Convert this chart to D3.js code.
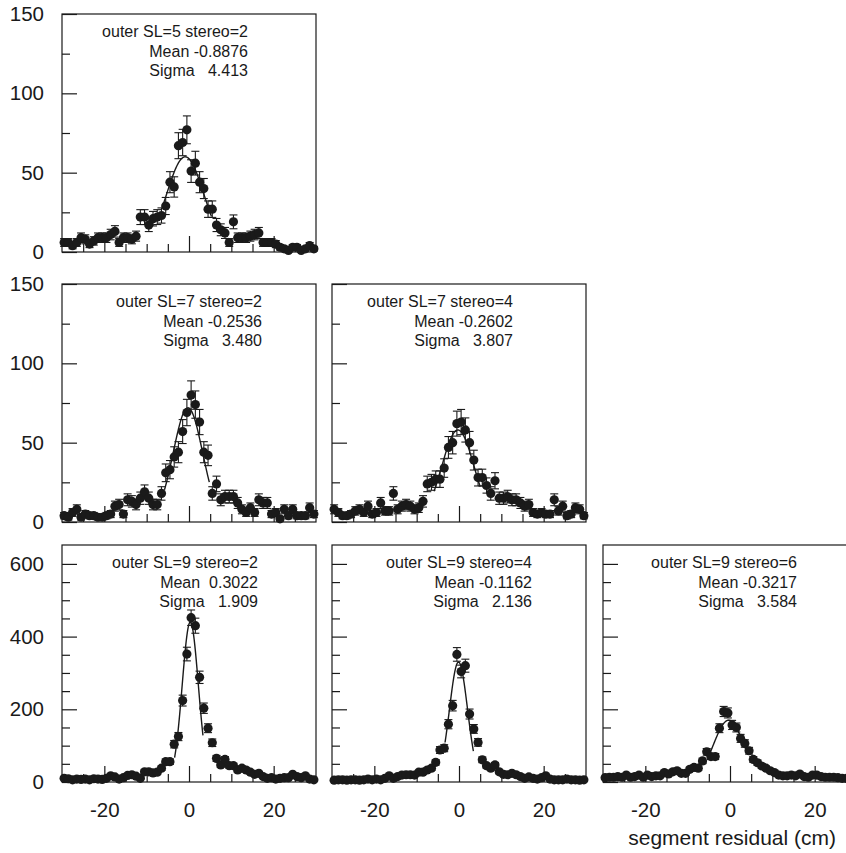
<!DOCTYPE html>
<html>
<head>
<meta charset="utf-8">
<script src="https://cdn.jsdelivr.net/npm/d3@7"></script>
<style>
body { margin: 0; background: #fff; }
svg text { font-family: "Liberation Sans", Arial, Helvetica, sans-serif; fill: #1a1a1a; }
</style>
</head>
<body>
<div id="charts"></div>
<script>
// histogram bins: 60 bins of 1 cm from -30 to 30
var binCenters = d3.range(-29.5, 30, 1);

// counts per bin
var sl5st2 = [6,6,4,6,9,8,5,7,9,9,
              9,11,13,6,9,9,8,10,22,22,
              17,21,22,23,29,44,41,67,69,77,
              51,56,44,40,27,27,17,14,12,6,
              19,9,9,9,10,11,12,6,6,6,
              5,3,2,1,3,3,1,2,4,2];
var sl7st2 = [4,3,6,8,3,5,4,4,3,3,
              4,5,10,11,5,14,13,11,15,19,
              15,11,11,18,31,33,41,44,57,69,
              80,74,63,44,42,18,24,14,16,16,
              16,12,8,6,9,6,14,12,12,5,
              6,2,8,4,8,4,4,4,9,5];
var sl7st4 = [8,6,4,4,5,7,8,6,10,5,
              6,12,7,7,18,8,10,11,10,8,
              9,13,24,25,27,27,34,47,50,62,
              63,58,50,39,28,28,23,18,26,15,
              15,16,14,14,12,10,11,6,5,6,
              5,5,14,7,10,4,5,9,8,4];
var sl9st2 = [10,9,6,8,7,8,6,9,8,7,
              10,17,14,8,12,18,20,16,10,28,
              28,25,27,38,56,56,104,125,224,352,
              452,430,288,203,148,108,65,47,62,45,
              45,33,38,33,27,21,24,15,10,12,
              8,10,12,12,21,15,12,17,8,6];
var sl9st4 = [5,6,6,5,6,6,5,6,8,6,
              8,6,10,17,10,15,19,20,20,19,
              27,27,33,38,54,88,93,159,210,351,
              304,320,187,146,109,61,45,38,47,28,
              21,20,24,20,15,10,14,10,8,12,
              17,8,6,6,6,8,6,6,5,6];
var sl9st6 = [12,13,13,15,13,19,13,15,19,13,
              19,15,17,17,26,22,28,31,24,24,
              35,40,38,58,83,70,70,148,194,190,
              157,150,120,106,86,62,53,44,38,31,
              26,19,17,17,19,17,22,15,13,19,
              19,15,13,13,13,12,10,10,10,10];

var titles = ['outer SL=5 stereo=2', 'outer SL=7 stereo=2', 'outer SL=7 stereo=4',
              'outer SL=9 stereo=2', 'outer SL=9 stereo=4', 'outer SL=9 stereo=6'];
var means  = ['-0.8876', '-0.2536', '-0.2602', ' 0.3022', '-0.1162', '-0.3217'];
var sigmas = ['4.413', '3.480', '3.807', '1.909', '2.136', '3.584'];

// gaussian fit: amplitude and drawn range
var fitAmp = [60, 72, 58, 440, 330, 170];
var fitLo  = [-6.3, -5.8, -5.9, -3.4, -3.3, -4.8];
var fitHi  = [5.3, 4.8, 5.0, 3.3, 3.4, 4.0];

var yMajorSmall = [0, 50, 100, 150];
var yMinorSmall = [25, 75, 125];
var yMajorBig = [0, 200, 400, 600];
var yMinorBig = [50, 100, 150, 250, 300, 350, 450, 500, 550];
var xMajor = [-20, 0, 20];
var xMinor = [-25, -15, -10, -5, 5, 10, 15, 25];

// layout
var colLeft = [62, 332, 603];
var rowTop = [14, 284, 545];
var rowH = [238, 238, 237];
var rowMax = [150, 150, 652];
var panelW = 254;
var titleRight = [186, 200, 181, 196, 200, 194];

var panels = [
  { row: 0, col: 0, data: sl5st2 },
  { row: 1, col: 0, data: sl7st2 },
  { row: 1, col: 1, data: sl7st4 },
  { row: 2, col: 0, data: sl9st2 },
  { row: 2, col: 1, data: sl9st4 },
  { row: 2, col: 2, data: sl9st6 }
];

var ink = '#1a1a1a';
var plain = function(d) { return String(d); }; // keep ascii hyphen for negatives

var svg = d3.select('#charts')
  .append('svg')
  .attr('width', 846)
  .attr('height', 853);

panels.forEach(function(p, i) {
  var left = colLeft[p.col], top = rowTop[p.row], h = rowH[p.row];
  var big = p.row === 2;

  var x = d3.scaleLinear().domain([-30, 30]).range([left, left + panelW]);
  var y = d3.scaleLinear().domain([0, rowMax[p.row]]).range([top + h, top]);

  var g = svg.append('g');

  // frame
  g.append('rect')
    .attr('x', left).attr('y', top)
    .attr('width', panelW).attr('height', h)
    .attr('fill', 'none').attr('stroke', ink).attr('stroke-width', 1.2);

  // y axis, ticks pointing inward
  g.append('g')
    .attr('transform', 'translate(' + left + ',0)')
    .call(d3.axisLeft(y)
      .tickValues(big ? yMajorBig : yMajorSmall)
      .tickSize(-15).tickPadding(18)
      .tickFormat(p.col === 0 ? plain : ''));
  g.append('g')
    .attr('transform', 'translate(' + left + ',0)')
    .call(d3.axisLeft(y)
      .tickValues(big ? yMinorBig : yMinorSmall)
      .tickSize(-8).tickFormat(''));

  // x axis, ticks pointing up
  g.append('g')
    .attr('transform', 'translate(0,' + (top + h) + ')')
    .call(d3.axisBottom(x)
      .tickValues(xMajor)
      .tickSize(-16).tickPadding(20)
      .tickFormat(big ? plain : ''));
  g.append('g')
    .attr('transform', 'translate(0,' + (top + h) + ')')
    .call(d3.axisBottom(x)
      .tickValues(xMinor)
      .tickSize(-8).tickFormat(''));

  g.selectAll('.domain').remove();
  g.selectAll('.tick line').attr('stroke', ink).attr('stroke-width', 1.2);
  g.selectAll('.tick text')
    .attr('font-size', 20.5)
    .attr('font-family', '"Liberation Sans", Arial, sans-serif')
    .attr('fill', ink);

  // gaussian fit
  var mean = +means[i], sigma = +sigmas[i];
  var fitPts = d3.range(fitLo[i], fitHi[i] + 0.001, (fitHi[i] - fitLo[i]) / 80);
  var line = d3.line()
    .x(function(d) { return x(d); })
    .y(function(d) { return y(fitAmp[i] * Math.exp(-0.5 * Math.pow((d - mean) / sigma, 2))); });
  g.append('path')
    .datum(fitPts)
    .attr('d', line)
    .attr('fill', 'none')
    .attr('stroke', ink)
    .attr('stroke-width', 1.4);

  // error bars (sqrt N) with caps
  var pts = binCenters.map(function(c, k) { return { x: c, n: p.data[k] }; });
  var eb = g.selectAll('.err' + i).data(pts).enter().append('g').attr('class', 'err' + i);
  eb.append('line')
    .attr('x1', function(d) { return x(d.x); })
    .attr('x2', function(d) { return x(d.x); })
    .attr('y1', function(d) { return y(d.n - Math.sqrt(d.n)); })
    .attr('y2', function(d) { return y(d.n + Math.sqrt(d.n)); });
  eb.append('line')
    .attr('x1', function(d) { return x(d.x) - 4; })
    .attr('x2', function(d) { return x(d.x) + 4; })
    .attr('y1', function(d) { return y(d.n + Math.sqrt(d.n)); })
    .attr('y2', function(d) { return y(d.n + Math.sqrt(d.n)); });
  eb.append('line')
    .attr('x1', function(d) { return x(d.x) - 4; })
    .attr('x2', function(d) { return x(d.x) + 4; })
    .attr('y1', function(d) { return y(d.n - Math.sqrt(d.n)); })
    .attr('y2', function(d) { return y(d.n - Math.sqrt(d.n)); });
  eb.selectAll('line').attr('stroke', ink).attr('stroke-width', 1.1);

  // markers
  g.selectAll('.dot' + i)
    .data(pts)
    .enter().append('circle')
    .attr('class', 'dot' + i)
    .attr('cx', function(d) { return x(d.x); })
    .attr('cy', function(d) { return y(d.n); })
    .attr('r', 4.6)
    .attr('fill', ink);

  // stats box text
  var tx = left + titleRight[i];
  var lines = [titles[i], 'Mean ' + means[i], 'Sigma   ' + sigmas[i]];
  lines.forEach(function(t, k) {
    g.append('text')
      .attr('x', tx)
      .attr('y', top + 23 + k * 19.5)
      .attr('text-anchor', 'end')
      .attr('font-size', 16)
      .attr('xml:space', 'preserve')
      .style('white-space', 'pre')
      .text(t);
  });
});

svg.append('text')
  .attr('x', 836)
  .attr('y', 845)
  .attr('text-anchor', 'end')
  .attr('font-size', 21)
  .text('segment residual (cm)');
</script>
</body>
</html>
